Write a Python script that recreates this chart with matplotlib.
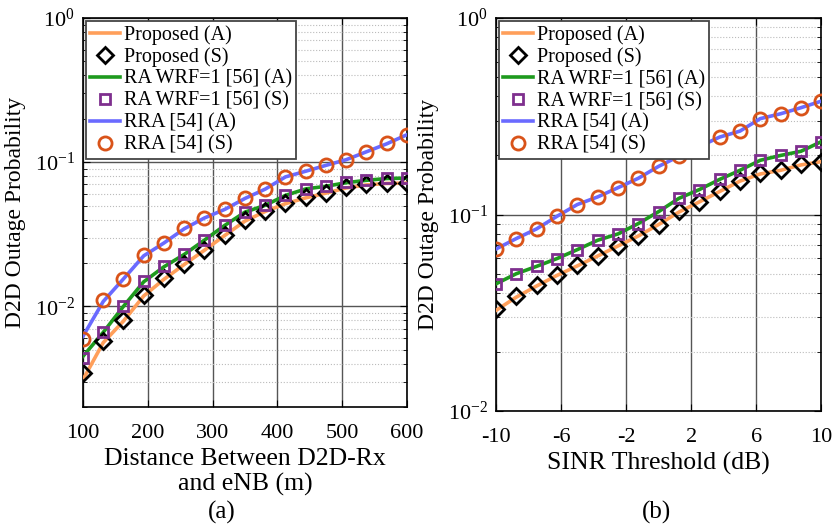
import numpy as np
import matplotlib
matplotlib.use("Agg")
import matplotlib.pyplot as plt
from matplotlib.ticker import LogLocator, NullFormatter

plt.rcParams['font.family'] = ['Liberation Serif', 'DejaVu Serif']
plt.rcParams['mathtext.fontset'] = 'custom'
plt.rcParams['mathtext.rm'] = 'Liberation Serif'
plt.rcParams['mathtext.it'] = 'Liberation Serif:italic'
plt.rcParams['axes.unicode_minus'] = False

# ---------------- data: panel (a) ----------------
dist = [100, 131.25, 162.5, 193.75, 225, 256.25, 287.5, 318.75, 350,
        381.25, 412.5, 443.75, 475, 506.25, 537.5, 568.75, 600]
a_prop_A = [0.0031, 0.0056, 0.0079, 0.0118, 0.0154, 0.0195, 0.0245, 0.031, 0.039,
            0.0455, 0.0515, 0.0565, 0.061, 0.0662, 0.0695, 0.0712, 0.0715]
a_prop_S = [0.00345, 0.00577, 0.00805, 0.012, 0.0156, 0.0197, 0.0247, 0.0314, 0.0398,
            0.0461, 0.0519, 0.057, 0.0615, 0.0668, 0.0701, 0.0719, 0.0719]
a_ra_A = [0.0045, 0.0066, 0.0100, 0.0148, 0.0188, 0.0229, 0.0288, 0.0364, 0.045,
          0.0502, 0.0588, 0.0652, 0.068, 0.072, 0.0748, 0.077, 0.0775]
a_ra_S = [0.00438, 0.00665, 0.01005, 0.0149, 0.019, 0.023, 0.029, 0.0366, 0.0454,
          0.0505, 0.059, 0.0654, 0.0683, 0.0724, 0.0751, 0.0772, 0.0772]
a_rra_A = [0.0062, 0.0108, 0.0155, 0.0224, 0.0275, 0.0345, 0.041, 0.047, 0.056,
           0.065, 0.079, 0.0865, 0.095, 0.104, 0.118, 0.134, 0.155]
a_rra_S = [0.0059, 0.011, 0.0155, 0.0226, 0.0277, 0.0347, 0.041, 0.0472, 0.0562,
           0.0652, 0.0792, 0.0867, 0.0953, 0.104, 0.118, 0.135, 0.155]

# ---------------- data: panel (b) ----------------
sinr = [-10, -8.75, -7.5, -6.25, -5, -3.75, -2.5, -1.25, 0,
        1.25, 2.5, 3.75, 5, 6.25, 7.5, 8.75, 10]
b_prop_A = [0.0325, 0.038, 0.0433, 0.049, 0.0548, 0.0615, 0.0692, 0.0778, 0.089,
            0.103, 0.116, 0.131, 0.148, 0.161, 0.168, 0.179, 0.186]
b_prop_S = [0.0331, 0.0383, 0.0436, 0.0494, 0.0551, 0.0618, 0.0695, 0.078, 0.089,
            0.104, 0.116, 0.132, 0.149, 0.162, 0.168, 0.18, 0.186]
b_ra_A = [0.0444, 0.05, 0.0545, 0.0597, 0.0663, 0.074, 0.0797, 0.09, 0.1035,
          0.121, 0.134, 0.151, 0.168, 0.189, 0.2, 0.21, 0.235]
b_ra_S = [0.0444, 0.05, 0.0545, 0.0597, 0.0663, 0.074, 0.0797, 0.09, 0.1035,
          0.121, 0.134, 0.151, 0.168, 0.189, 0.2, 0.21, 0.235]
b_rra_A = [0.0668, 0.0755, 0.0846, 0.098, 0.1125, 0.123, 0.137, 0.153, 0.176,
           0.198, 0.222, 0.248, 0.266, 0.308, 0.326, 0.35, 0.378]
b_rra_S = [0.0668, 0.0755, 0.0846, 0.098, 0.1125, 0.123, 0.137, 0.153, 0.176,
           0.198, 0.222, 0.248, 0.266, 0.308, 0.326, 0.35, 0.378]

labels = ['Proposed (A)', 'Proposed (S)', 'RA WRF=1 [56] (A)',
          'RA WRF=1 [56] (S)', 'RRA [54] (A)', 'RRA [54] (S)']

C_PROP = '#FF9F5A'
C_RA = '#1E9A1E'
C_RA_M = '#7E2F8E'
C_RRA = '#6A6AFF'
C_RRA_M = '#D95319'

fig = plt.figure(figsize=(8.34, 5.28), dpi=100)
axA = fig.add_axes([0.0995, 0.229, 0.3885, 0.737])
axB = fig.add_axes([0.5947, 0.2216, 0.39, 0.744])

FS = 16


def draw(ax, x, pA, pS, rA, rS, qA, qS):
    lw = 2.6
    ms = 9
    mew = 2.0
    h1, = ax.plot(x, pA, '-', color=C_PROP, lw=lw, zorder=3)
    h2, = ax.plot(x, pS, 'D', mfc='none', mec='black', ms=ms*0.85, mew=mew,
                  ls='none', zorder=5)
    h3, = ax.plot(x, rA, '-', color=C_RA, lw=lw, zorder=3)
    h4, = ax.plot(x, rS, 's', mfc='none', mec=C_RA_M, ms=ms*0.85, mew=mew,
                  ls='none', zorder=5)
    h5, = ax.plot(x, qA, '-', color=C_RRA, lw=lw, zorder=3)
    h6, = ax.plot(x, qS, 'o', mfc='none', mec=C_RRA_M, ms=ms*1.05, mew=mew,
                  ls='none', zorder=5)
    ax.set_yscale('log')
    ax.yaxis.set_major_locator(LogLocator(base=10, numticks=10))
    ax.yaxis.set_minor_locator(LogLocator(base=10, subs=np.arange(2, 10), numticks=20))
    ax.yaxis.set_minor_formatter(NullFormatter())
    ax.grid(True, which='major', axis='both', color='#555555', lw=1.0, ls='-')
    ax.grid(True, which='minor', axis='y', color='#BBBBBB', lw=0.8, ls=':')
    ax.set_axisbelow(True)
    ax.tick_params(which='both', direction='in', top=True, right=True,
                   labelsize=FS, color='black')
    ax.tick_params(which='major', length=5)
    ax.tick_params(axis='x', which='major', pad=12)
    ax.tick_params(axis='y', which='major', pad=6)
    ax.tick_params(which='minor', length=3)
    for s in ax.spines.values():
        s.set_linewidth(1.2)
    leg = ax.legend([h1, h2, h3, h4, h5, h6], labels, loc='upper left',
                    fontsize=14.5, frameon=True, fancybox=False,
                    borderaxespad=0.15, handlelength=1.5, handletextpad=0.2,
                    labelspacing=0.13, borderpad=0.2)
    leg.get_frame().set_edgecolor('#444444')
    leg.get_frame().set_linewidth(1.3)
    leg.get_frame().set_alpha(1)
    ax.set_ylabel('D2D Outage Probability', fontsize=17, labelpad=6)


draw(axA, dist, a_prop_A, a_prop_S, a_ra_A, a_ra_S, a_rra_A, a_rra_S)
axA.set_xlim(100, 600)
axA.set_ylim(2e-3, 1)
axA.set_xticks([100, 200, 300, 400, 500, 600])
axA.set_xlabel('Distance Between D2D-Rx\nand eNB (m)', fontsize=18.5,
               linespacing=1.15, labelpad=4)

draw(axB, sinr, b_prop_A, b_prop_S, b_ra_A, b_ra_S, b_rra_A, b_rra_S)
axB.set_xlim(-10, 10)
axB.set_ylim(1e-2, 1)
axB.set_xticks([-10, -6, -2, 2, 6, 10])
axB.set_xlabel('SINR Threshold (dB)', fontsize=18.5, labelpad=4)

fig.text(0.266, 0.03, '(a)', ha='center', va='center', fontsize=18)
fig.text(0.787, 0.03, '(b)', ha='center', va='center', fontsize=18)

fig.savefig('out.png', dpi=100)
